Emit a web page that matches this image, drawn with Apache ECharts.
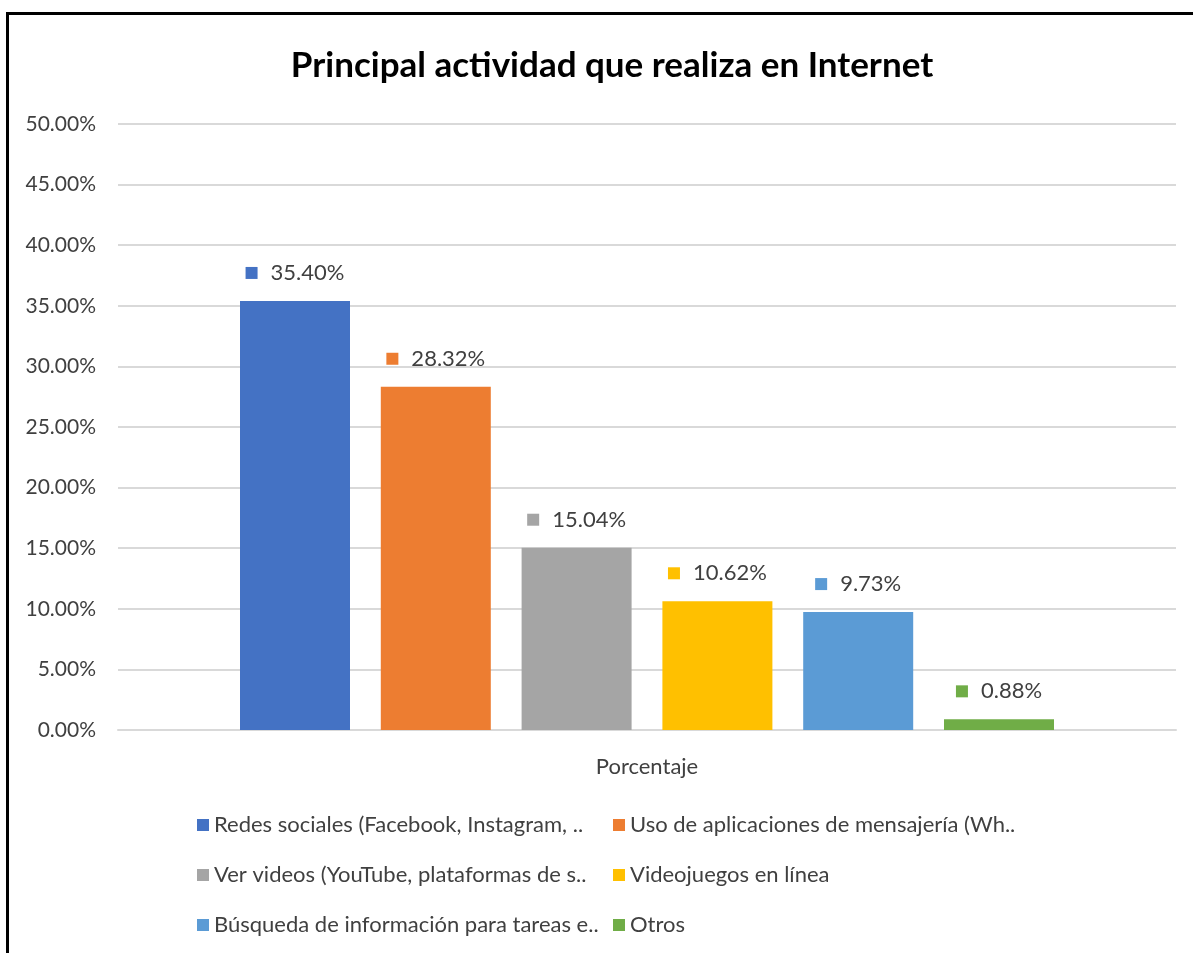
<!DOCTYPE html>
<html>
<head>
<meta charset="utf-8">
<script src="https://cdn.jsdelivr.net/npm/echarts@6/dist/echarts.min.js"></script>
<style>
html,body{margin:0;padding:0;background:#fff;}
#chart{width:1193px;height:953px;position:absolute;left:0;top:0;}
#frame{position:absolute;left:6px;top:12px;width:1200px;height:960px;border-top:3px solid #000;border-left:3px solid #000;pointer-events:none;}
</style>
</head>
<body>
<div id="chart"></div>
<div id="frame"></div>
<script>
const titleText = 'Principal actividad que realiza en Internet';
const categories = ['Porcentaje'];
const seriesNames = [
  'Redes sociales (Facebook, Instagram, ..',
  'Uso de aplicaciones de mensajería (Wh..',
  'Ver videos (YouTube, plataformas de s..',
  'Videojuegos en línea',
  'Búsqueda de información para tareas e..',
  'Otros'
];
const seriesValues = [35.40, 28.32, 15.04, 10.62, 9.73, 0.88];
const colors = ['#4472C4', '#ED7D31', '#A5A5A5', '#FFC000', '#5B9BD5', '#70AD47'];

const FONT = 'Lato';
const chart = echarts.init(document.getElementById('chart'));

const series = seriesNames.map((name, i) => ({
  name: name,
  type: 'bar',
  data: [seriesValues[i]],
  barWidth: 110,
  barGap: '28%',
  itemStyle: { color: colors[i] },
  label: {
    show: true,
    position: 'top',
    distance: 17,
    formatter: p => '{sq|}{v|' + p.value.toFixed(2) + '%}',
    rich: {
      sq: { backgroundColor: colors[i], width: 12, height: 12 },
      v: { fontFamily: FONT, fontSize: 22, color: '#404040', padding: [0, 0, 0, 13] }
    }
  }
}));

const legendText = { fontFamily: FONT, fontSize: 22, color: '#404040', padding: [0, 0, 0, 0] };

chart.setOption({
  animation: false,
  title: {
    text: titleText,
    left: 607,
    top: 43,
    textAlign: 'center',
    textStyle: { fontFamily: FONT, fontSize: 35, fontWeight: 'bold', color: '#000' }
  },
  grid: { left: 118, right: 17, top: 124, bottom: 223, containLabel: false },
  legend: [
    {
      data: [seriesNames[0], seriesNames[2], seriesNames[4]],
      orient: 'vertical', left: 192, top: 809, itemGap: 28,
      icon: 'rect', itemWidth: 12, itemHeight: 12,
      textStyle: legendText
    },
    {
      data: [seriesNames[1], seriesNames[3], seriesNames[5]],
      orient: 'vertical', left: 608, top: 809, itemGap: 28,
      icon: 'rect', itemWidth: 12, itemHeight: 12,
      textStyle: legendText
    }
  ],
  xAxis: {
    type: 'category',
    data: categories,
    axisLine: { lineStyle: { color: '#D9D9D9', width: 2 } },
    axisTick: { show: false },
    axisLabel: { fontFamily: FONT, fontSize: 22, color: '#404040', margin: 26 }
  },
  yAxis: {
    type: 'value',
    min: 0, max: 50, interval: 5,
    axisLine: { show: false },
    axisTick: { show: false },
    splitLine: { lineStyle: { color: '#D9D9D9', width: 2 } },
    axisLabel: {
      fontFamily: FONT, fontSize: 21, color: '#404040', margin: 22,
      formatter: v => v.toFixed(2) + '%'
    }
  },
  series: series
});
</script>
</body>
</html>
